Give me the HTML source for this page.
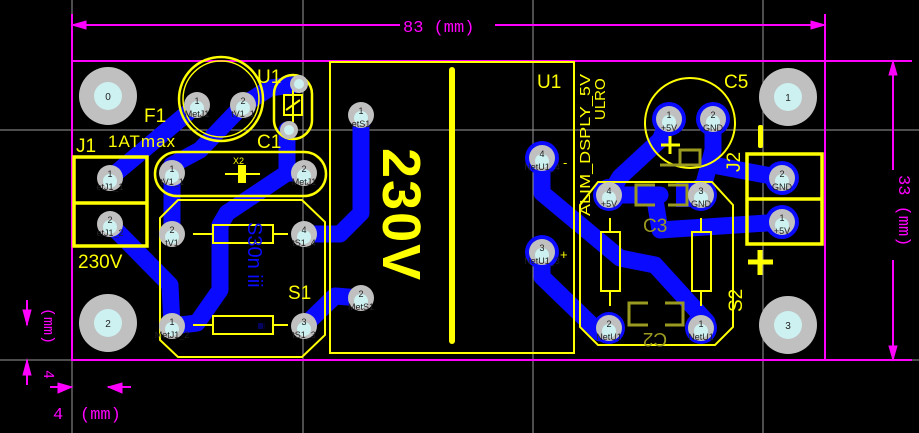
<!DOCTYPE html>
<html><head><meta charset="utf-8"><style>
html,body{margin:0;padding:0;background:#000;}
svg{display:block;}
text{font-family:"Liberation Sans",sans-serif;}
.pl{font-size:9px;fill:#222;text-anchor:middle;}
.pn{font-size:10px;fill:#222;text-anchor:middle;}
</style></head><body>
<svg width="919" height="433" viewBox="0 0 919 433" xmlns="http://www.w3.org/2000/svg">
<rect width="919" height="433" fill="#000"/>
<g stroke="#9a9a9a" stroke-width="1">
<line x1="72" y1="0" x2="72" y2="433"/><line x1="303" y1="0" x2="303" y2="433"/>
<line x1="533" y1="0" x2="533" y2="433"/><line x1="763" y1="0" x2="763" y2="433"/>
<line x1="0" y1="130" x2="919" y2="130"/><line x1="0" y1="360" x2="919" y2="360"/>
</g>
<g stroke="#0a0aff" stroke-width="17" fill="none" stroke-linejoin="round" stroke-linecap="round">
<polyline points="110,178 197,105"/>
<polyline points="243,105 200,150 172,165 172,234"/>
<polyline points="243,105 270,88 299,84"/>
<polyline points="287,130 287,173 304,173"/>
<polyline points="287,173 227,213 220,225 220,290 197,323 172,326"/>
<polyline points="110,224 170,285 172,326"/>
<polyline points="304,234 340,234 361,213 361,115"/>
<polyline points="304,326 335,296 361,298"/>
<polyline points="542,158 542,193 620,258 655,265 707,322"/>
<polyline points="542,252 542,277 600,333"/>
<polyline points="609,195 620,177 660,140 669,119"/>
<polyline points="609,195 660,195"/>
<polyline points="655,200 660,230 782,222"/>
<polyline points="713,119 713,150 701,195"/>
<polyline points="713,165 782,178"/>
</g>
<rect x="676" y="182" width="22" height="25" fill="#0a0aff"/>
<g fill="#0a0aff">
<circle cx="542" cy="158" r="17"/><circle cx="542" cy="252" r="17"/>
<circle cx="669" cy="119" r="17"/><circle cx="713" cy="119" r="17"/>
<circle cx="609" cy="195" r="16"/><circle cx="701" cy="195" r="16"/>
<circle cx="609" cy="328" r="16"/><circle cx="701" cy="328" r="16"/>
<circle cx="782" cy="178" r="17"/><circle cx="782" cy="222" r="17"/>
</g>
<rect x="72" y="61" width="753" height="299" fill="none" stroke="#ff00ff" stroke-width="2"/>
<g>
<circle cx="108" cy="96" r="29" fill="#c0c0c0"/><circle cx="108" cy="96" r="14" fill="#cdf0f0"/>
<circle cx="108" cy="323" r="29" fill="#c0c0c0"/><circle cx="108" cy="323" r="14" fill="#cdf0f0"/>
<circle cx="788" cy="97" r="29" fill="#c0c0c0"/><circle cx="788" cy="97" r="14" fill="#cdf0f0"/>
<circle cx="788" cy="325" r="29" fill="#c0c0c0"/><circle cx="788" cy="325" r="14" fill="#cdf0f0"/>
</g>
<g class="pn"><text x="108" y="100">0</text><text x="108" y="327">2</text><text x="788" y="101">1</text><text x="788" y="329">3</text></g>
<g stroke="#ffff00" fill="none" stroke-width="2.5">
<circle cx="221" cy="99" r="42"/><circle cx="221" cy="99" r="38" stroke-width="1.5"/>
<rect x="274" y="75" width="38" height="64" rx="19"/>
<path d="M284 95 L302 95 L302 115 L284 115 Z M293 88 V122 M286 110 L300 100" stroke-width="2"/>
<rect x="155" y="152" width="171" height="44" rx="22"/>
<line x1="225" y1="174" x2="260" y2="174" stroke-width="2"/>
<rect x="74" y="157" width="73" height="89" stroke-width="3.5"/><line x1="74" y1="203" x2="147" y2="203" stroke-width="3.5"/>
<polygon points="178,200 302,200 325,222 325,335 302,357 178,357 160,340 160,218" stroke-width="2"/>
<rect x="213" y="225" width="60" height="18" stroke-width="2"/><line x1="193" y1="234" x2="213" y2="234" stroke-width="2"/><line x1="273" y1="234" x2="288" y2="234" stroke-width="2"/>
<rect x="213" y="316" width="60" height="18" stroke-width="2"/><line x1="193" y1="325" x2="213" y2="325" stroke-width="2"/><line x1="273" y1="325" x2="288" y2="325" stroke-width="2"/>
<rect x="330" y="62" width="244" height="291" stroke-width="2"/>
<circle cx="690" cy="123" r="45" stroke-width="2"/>
<polygon points="598,182 712,182 733,205 733,327 715,345 598,345 580,327 580,205" stroke-width="2"/>
<rect x="601" y="232" width="19" height="59" stroke-width="2"/><line x1="610" y1="218" x2="610" y2="232" stroke-width="2"/><line x1="610" y1="291" x2="610" y2="306" stroke-width="2"/>
<rect x="692" y="232" width="19" height="59" stroke-width="2"/><line x1="701" y1="218" x2="701" y2="232" stroke-width="2"/><line x1="701" y1="291" x2="701" y2="306" stroke-width="2"/>
<rect x="747" y="154" width="75" height="90" stroke-width="3.5"/><line x1="747" y1="199" x2="822" y2="199" stroke-width="3.5"/>
</g>
<rect x="449" y="67" width="6" height="277" rx="3" fill="#ffff00"/>
<rect x="238" y="165" width="8" height="18" fill="#ffff00"/>
<rect x="758" y="125" width="5" height="23" rx="2" fill="#ffff00"/>
<path d="M748 262 H773 M760 250 V275" stroke="#ffff00" stroke-width="5"/>
<path d="M661 145 H680 M670 136 V154" stroke="#ffff00" stroke-width="3"/>
<g stroke="#9a9a20" stroke-width="3" fill="none">
<polyline points="655,185 636,185 636,205 655,205"/><polyline points="668,185 687,185 687,205 668,205"/>
<polyline points="648,303 629,303 629,325 648,325"/><polyline points="665,303 683,303 683,325 665,325"/>
<polyline points="660,165 700,165 700,150 680,150 680,165"/>
</g>
<text x="643" y="232" font-size="19" fill="#9a9a20">C3</text>
<text x="655" y="333" font-size="19" fill="#9a9a20" transform="rotate(180 655 333)" text-anchor="middle">C2</text>
<g fill="#c0c0c0">
<circle cx="197" cy="105" r="13"/><circle cx="243" cy="105" r="13"/>
<circle cx="299" cy="84" r="9"/><circle cx="289" cy="130" r="9"/>
<circle cx="172" cy="173" r="13"/><circle cx="304" cy="173" r="13"/>
<circle cx="110" cy="178" r="13"/><circle cx="110" cy="224" r="13"/>
<circle cx="172" cy="234" r="13"/><circle cx="304" cy="234" r="13"/>
<circle cx="172" cy="326" r="13"/><circle cx="304" cy="326" r="13"/>
<circle cx="361" cy="115" r="13"/><circle cx="361" cy="298" r="13"/>
<circle cx="542" cy="158" r="13"/><circle cx="542" cy="252" r="13"/>
<circle cx="669" cy="119" r="13"/><circle cx="713" cy="119" r="13"/>
<circle cx="609" cy="195" r="13"/><circle cx="701" cy="195" r="13"/>
<circle cx="609" cy="328" r="13"/><circle cx="701" cy="328" r="13"/>
<circle cx="782" cy="178" r="13"/><circle cx="782" cy="222" r="13"/>
</g>
<g fill="#cdf0f0">
<circle cx="197" cy="108" r="7"/><circle cx="243" cy="108" r="7"/>
<circle cx="299" cy="84" r="5"/><circle cx="289" cy="130" r="5"/>
<circle cx="172" cy="176" r="7"/><circle cx="304" cy="176" r="7"/>
<circle cx="110" cy="181" r="7"/><circle cx="110" cy="227" r="7"/>
<circle cx="172" cy="237" r="7"/><circle cx="304" cy="237" r="7"/>
<circle cx="172" cy="329" r="7"/><circle cx="304" cy="329" r="7"/>
<circle cx="361" cy="118" r="7"/><circle cx="361" cy="301" r="7"/>
<circle cx="542" cy="161" r="7"/><circle cx="542" cy="255" r="7"/>
<circle cx="669" cy="122" r="7"/><circle cx="713" cy="122" r="7"/>
<circle cx="609" cy="198" r="7"/><circle cx="701" cy="198" r="7"/>
<circle cx="609" cy="331" r="7"/><circle cx="701" cy="331" r="7"/>
<circle cx="782" cy="181" r="7"/><circle cx="782" cy="225" r="7"/>
</g>
<g class="pl">
<text x="197" y="104">1</text><text x="197" y="117">MetJ1</text>
<text x="243" y="104">2</text><text x="243" y="117">tV1_1</text>
<text x="172" y="172">1</text><text x="172" y="185">tV1_1</text>
<text x="304" y="172">2</text><text x="304" y="185">MetJ1</text>
<text x="110" y="177">1</text><text x="110" y="190">etJ1_1</text>
<text x="110" y="223">2</text><text x="110" y="236">etJ1_2</text>
<text x="172" y="233">2</text><text x="172" y="246">tV1</text>
<text x="304" y="233">4</text><text x="304" y="246">tS1_4</text>
<text x="172" y="325">1</text><text x="172" y="338">MetJ1_2</text>
<text x="304" y="325">3</text><text x="304" y="338">tS1_3</text>
<text x="361" y="114">1</text><text x="361" y="127">etS1</text>
<text x="361" y="297">2</text><text x="361" y="310">MetS1</text>
<text x="542" y="157">4</text><text x="542" y="170">NetU1_4</text>
<text x="542" y="251">3</text><text x="542" y="264">NetU1_3</text>
<text x="669" y="118">1</text><text x="669" y="131">+5V</text>
<text x="713" y="118">2</text><text x="713" y="131">GND</text>
<text x="609" y="194">4</text><text x="609" y="207">+5V</text>
<text x="701" y="194">3</text><text x="701" y="207">GND</text>
<text x="609" y="327">2</text><text x="609" y="340">NetU1</text>
<text x="701" y="327">1</text><text x="701" y="340">NetU1</text>
<text x="782" y="177">2</text><text x="782" y="190">GND</text>
<text x="782" y="221">1</text><text x="782" y="234">+5V</text>
</g>
<g fill="#ffff00" font-size="19">
<text x="144" y="122">F1</text>
<text x="257" y="83">U1</text>
<text x="257" y="148">C1</text>
<text x="76" y="152">J1</text>
<text x="78" y="268">230V</text>
<text x="288" y="299">S1</text>
<text x="537" y="88">U1</text>
<text x="724" y="88">C5</text>
<text x="563" y="167" font-size="13">-</text>
<text x="560" y="259" font-size="13">+</text>
</g>
<text x="108" y="147" fill="#ffff00" font-size="17" letter-spacing="1">1ATmax</text>
<text x="233" y="164" fill="#ffff00" font-size="9">X2</text>
<text transform="translate(383,148) rotate(90)" fill="#ffff00" font-size="54" font-weight="bold" letter-spacing="2">230V</text>
<text transform="translate(590,216) rotate(-90)" fill="#ffff00" font-size="15" textLength="142" lengthAdjust="spacingAndGlyphs">ALIM_DSPLY_5V</text>
<text transform="translate(605,120) rotate(-90)" fill="#ffff00" font-size="15">ULRO</text>
<text transform="translate(740,172) rotate(-90)" fill="#ffff00" font-size="19">J2</text>
<text transform="translate(742,312) rotate(-90)" fill="#ffff00" font-size="19">S2</text>
<text transform="translate(248,222) rotate(90)" fill="#0a0aff" font-size="20">S30n iii</text>
<text transform="translate(258,323) rotate(90)" fill="#0a0aff" font-size="9">iii</text>
<g stroke="#ff00ff" stroke-width="2" fill="#ff00ff">
<line x1="72" y1="14" x2="72" y2="60"/><line x1="825" y1="14" x2="825" y2="60"/>
<line x1="72" y1="25" x2="400" y2="25"/><line x1="495" y1="25" x2="825" y2="25"/>
<polygon points="72,25 86,21 86,29" stroke-width="1"/><polygon points="825,25 811,21 811,29" stroke-width="1"/>
<line x1="826" y1="61" x2="912" y2="61"/><line x1="826" y1="360" x2="912" y2="360"/>
<line x1="893" y1="61" x2="893" y2="170"/><line x1="893" y1="260" x2="893" y2="360"/>
<polygon points="893,61 889,75 897,75" stroke-width="1"/><polygon points="893,360 889,346 897,346" stroke-width="1"/>
<line x1="27" y1="300" x2="27" y2="325"/><polygon points="27,325 23,310 31,310" stroke-width="1"/>
<line x1="27" y1="360" x2="27" y2="385"/><polygon points="27,360 23,375 31,375" stroke-width="1"/>
<line x1="50" y1="387" x2="72" y2="387"/><polygon points="72,387 58,383 58,393" stroke-width="1"/>
<line x1="108" y1="387" x2="131" y2="387"/><polygon points="108,387 122,383 122,393" stroke-width="1"/>
</g>
<g fill="#ff00ff" font-size="17">
<text x="403" y="32" style="font-family:'Liberation Mono',monospace">83 (mm)</text>
<text transform="translate(899,175) rotate(90)" style="font-family:'Liberation Mono',monospace">33 (mm)</text>
<text transform="translate(44,308) rotate(90)" style="font-family:'Liberation Mono',monospace" font-size="15">(mm)</text>
<text transform="translate(44,370) rotate(90)" style="font-family:'Liberation Mono',monospace" font-size="15">4</text>
<text x="53" y="419" style="font-family:'Liberation Mono',monospace">4</text>
<text x="80" y="419" style="font-family:'Liberation Mono',monospace">(mm)</text>
</g>
</svg>
</body></html>
